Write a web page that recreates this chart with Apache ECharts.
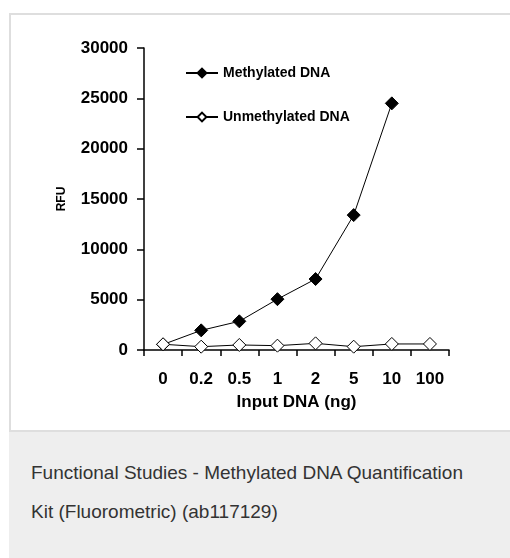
<!DOCTYPE html>
<html>
<head>
<meta charset="utf-8">
<script src="https://cdn.jsdelivr.net/npm/echarts@6/dist/echarts.min.js"></script>
<style>
  html, body { margin: 0; padding: 0; background: #fff; width: 510px; height: 558px; overflow: hidden; font-family: "Liberation Sans", Arial, sans-serif; }
  #frame { position: absolute; left: 9px; top: 13px; width: 520px; height: 415px; border: 2px solid #dedede; background: #fff; box-sizing: content-box; }
  #caption { position: absolute; left: 9px; top: 432px; width: 520px; height: 140px; background: #eeeeee; }
  .cap { position: absolute; left: 31px; font-size: 19px; color: #333; white-space: nowrap; line-height: 19px; }
  #chart { position: absolute; left: 0; top: 0; width: 510px; height: 430px; }
</style>
</head>
<body>
<div id="frame"></div>
<div id="caption"></div>
<div class="cap" style="top:463px">Functional Studies - Methylated DNA Quantification</div>
<div class="cap" style="top:502px">Kit (Fluorometric) (ab117129)</div>
<div id="chart"></div>
<script>
const categories = ['0', '0.2', '0.5', '1', '2', '5', '10', '100'];
const methylated = [550, 1950, 2850, 5050, 7050, 13400, 24500, null];
const unmethylated = [570, 330, 500, 430, 660, 330, 600, 600];
const yTicks = { min: 0, max: 30000, interval: 5000 };

const chart = echarts.init(document.getElementById('chart'), null, { renderer: 'canvas' });
const font = '"Liberation Sans", Arial, sans-serif';
chart.setOption({
  animation: false,
  backgroundColor: 'transparent',
  grid: { left: 144, right: 61, top: 48, bottom: 80, containLabel: false },
  legend: {
    orient: 'vertical',
    left: 180,
    top: 61,
    itemWidth: 32,
    itemHeight: 11,
    itemGap: 30,
    textStyle: { fontFamily: font, fontWeight: 'bold', fontSize: 14, color: '#000' },
    data: ['Methylated DNA', 'Unmethylated DNA']
  },
  xAxis: {
    type: 'category',
    data: categories,
    boundaryGap: true,
    name: 'Input DNA (ng)',
    nameLocation: 'middle',
    nameGap: 44,
    nameTextStyle: { fontFamily: font, fontWeight: 'bold', fontSize: 17, color: '#000' },
    axisLine: { lineStyle: { color: '#000', width: 1.5 } },
    axisTick: { show: true, alignWithLabel: false, interval: 0, length: 6, lineStyle: { color: '#000', width: 1.5 } },
    axisLabel: { interval: 0, margin: 21, fontFamily: font, fontWeight: 'bold', fontSize: 17, color: '#000' },
    splitLine: { show: false }
  },
  yAxis: {
    type: 'value',
    min: yTicks.min,
    max: yTicks.max,
    interval: yTicks.interval,
    name: 'RFU',
    nameLocation: 'middle',
    nameRotate: 90,
    nameGap: 76,
    nameTextStyle: { fontFamily: font, fontWeight: 'bold', fontSize: 12, color: '#000' },
    axisLine: { show: true, lineStyle: { color: '#000', width: 1.5 } },
    axisTick: { show: true, length: 7, lineStyle: { color: '#000', width: 1.5 } },
    axisLabel: { margin: 16, fontFamily: font, fontWeight: 'bold', fontSize: 17, color: '#000', formatter: function (v) { return String(v); } },
    splitLine: { show: false }
  },
  series: [
    {
      name: 'Methylated DNA',
      type: 'line',
      data: methylated,
      symbol: 'diamond',
      symbolSize: 13,
      lineStyle: { color: '#000', width: 1 },
      itemStyle: { color: '#000', borderColor: '#000', borderWidth: 1 }
    },
    {
      name: 'Unmethylated DNA',
      type: 'line',
      data: unmethylated,
      symbol: 'diamond',
      symbolSize: 13,
      lineStyle: { color: '#000', width: 1 },
      itemStyle: { color: '#fff', borderColor: '#000', borderWidth: 1 }
    }
  ]
});
</script>
</body>
</html>
